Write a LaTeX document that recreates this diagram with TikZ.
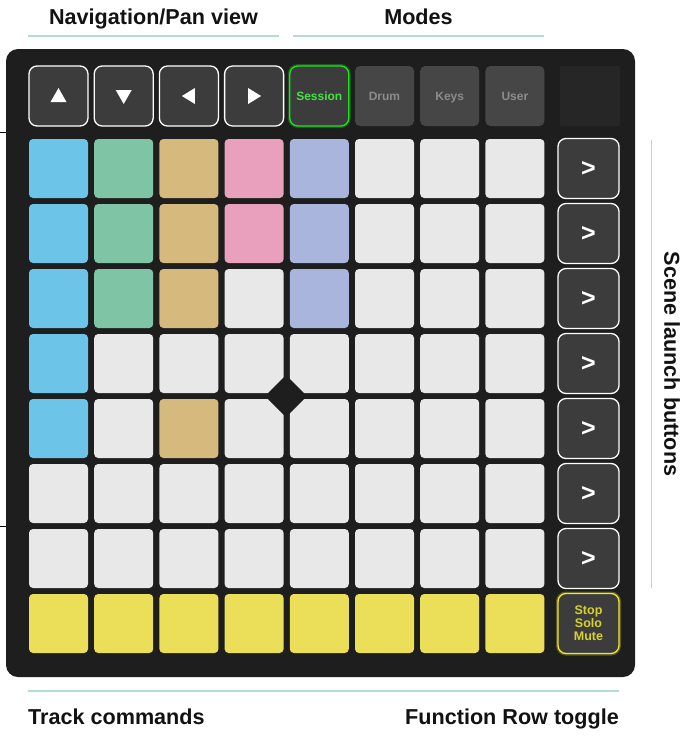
\documentclass[tikz,border=0pt]{standalone}
\usepackage{fontspec}
\setmainfont{Liberation Sans}
\usetikzlibrary{positioning, calc}
\definecolor{body}{HTML}{1E1E1E}
\definecolor{btn}{HTML}{3C3C3C}
\definecolor{blankgray}{HTML}{262626}
\definecolor{padblue}{HTML}{6CC5E8}
\definecolor{padgreen}{HTML}{7FC4A4}
\definecolor{padtan}{HTML}{D6B97C}
\definecolor{padpink}{HTML}{E8A0BC}
\definecolor{padlav}{HTML}{A9B5DD}
\definecolor{padgray}{HTML}{E8E8E8}
\definecolor{padyellow}{HTML}{EBDF5A}
\definecolor{sessiongreen}{HTML}{22E022}
\definecolor{stopyellow}{HTML}{F0E830}
\definecolor{rulemint}{HTML}{B3DDCD}
\definecolor{modetext}{HTML}{8C8C8C}

\tikzset{
  pad/.style={minimum width=59pt, minimum height=59pt, inner sep=0pt, rounded corners=4pt},
  navbtn/.style={pad, minimum height=60pt, fill=btn, draw=white, line width=1.3pt, rounded corners=8pt},
  modebtn/.style={pad, minimum height=60pt, fill=btn!95!white, rounded corners=5pt, text=modetext,
    text height=8.5pt, text depth=0pt, font=\fontsize{12}{12}\selectfont\bfseries},
  sessionbtn/.style={navbtn, draw=sessiongreen, text=sessiongreen!85!white,
    preaction={draw=sessiongreen, line width=4pt, opacity=.3},
    text height=8.5pt, text depth=0pt, font=\fontsize{12}{12}\selectfont\bfseries},
  scenebtn/.style={navbtn, minimum width=61pt, text=white, font=\fontsize{25}{25}\selectfont\bfseries},
  stopbtn/.style={scenebtn, draw=stopyellow, text=stopyellow!90!black, align=center,
    preaction={draw=stopyellow, line width=4pt, opacity=.3}, font=\fontsize{12.5}{13}\selectfont\bfseries},
  heading/.style={inner sep=0pt, text=black!93, font=\fontsize{21.6}{24}\selectfont\bfseries},
  rule/.style={draw=rulemint, line width=1.5pt}
}

\begin{document}
\begin{tikzpicture}[x=1pt, y=-1pt]
\useasboundingbox (0,0) rectangle (691,740);

% device
\fill[body, rounded corners=12pt] (6,49) rectangle (635,677);
\draw[black, line width=1pt] (0,132) -- (6,132);
\draw[black, line width=1pt] (0,526) -- (6,526);

% top row
\foreach \name [count=\c] in {up,down,left,right}
  \node[navbtn] (\name) at ({58.5+65.2*(\c-1)}, 96) {};
\fill[white] ([shift={(-8,6)}]up.center) -- ([shift={(8,6)}]up.center) -- ([shift={(0,-8)}]up.center) -- cycle;
\fill[white] ([shift={(-8,-6)}]down.center) -- ([shift={(8,-6)}]down.center) -- ([shift={(0,8)}]down.center) -- cycle;
\fill[white] ([shift={(6,-8)}]left.center) -- ([shift={(6,8)}]left.center) -- ([shift={(-7,0)}]left.center) -- cycle;
\fill[white] ([shift={(-6,-8)}]right.center) -- ([shift={(-6,8)}]right.center) -- ([shift={(7,0)}]right.center) -- cycle;

\node[sessionbtn] (session) at (319.3, 96) {Session};
\node[modebtn] (drum) at (384.5, 96) {Drum};
\node[modebtn] (keys) at (449.7, 96) {Keys};
\node[modebtn] (user) at (514.9, 96) {User};
\node[pad, minimum width=60pt, minimum height=60pt, fill=blankgray, rounded corners=1pt] (blank) at (590, 96) {};

% pad grid
\foreach \row [count=\r] in {
  {padblue,padgreen,padtan,padpink,padlav,padgray,padgray,padgray},
  {padblue,padgreen,padtan,padpink,padlav,padgray,padgray,padgray},
  {padblue,padgreen,padtan,padgray,padlav,padgray,padgray,padgray},
  {padblue,padgray,padgray,padgray,padgray,padgray,padgray,padgray},
  {padblue,padgray,padtan,padgray,padgray,padgray,padgray,padgray},
  {padgray,padgray,padgray,padgray,padgray,padgray,padgray,padgray},
  {padgray,padgray,padgray,padgray,padgray,padgray,padgray,padgray},
  {padyellow,padyellow,padyellow,padyellow,padyellow,padyellow,padyellow,padyellow}} {
  \foreach \col [count=\c] in \row
    \node[pad, fill=\col] (pad-\r-\c) at ({58.5+65.2*(\c-1)}, {168.5+65*(\r-1)}) {};
}
\fill[body] (286,375) -- (307,396) -- (286,417) -- (265,396) -- cycle;

% scene launch column
\foreach \r in {1,...,7}
  \node[scenebtn] (scene-\r) at (588.5, {168.5+65*(\r-1)}) {>};
\node[stopbtn] (stop) at (588.5, 623.5) {Stop\\Solo\\Mute};

% labels
\node[heading, anchor=base] (navlabel) at (153.5, 24) {Navigation/Pan view};
\node[heading, anchor=base] (modeslabel) at (418.5, 24) {Modes};
\draw[rule] (28,36) -- (279,36);
\draw[rule] (293,36) -- (544,36);

\draw[rule, line width=1pt] (651,140) -- (651,588);
\node[heading, rotate=-90] (scenelabel) at (672, 364) {Scene launch buttons};

\draw[rule, line width=1.2pt] (28,691) -- (619,691);
\node[heading, anchor=base west] (tracklabel) at (28, 724) {Track commands};
\node[heading, anchor=base east] (funclabel) at (619, 724) {Function Row toggle};
\end{tikzpicture}
\end{document}
